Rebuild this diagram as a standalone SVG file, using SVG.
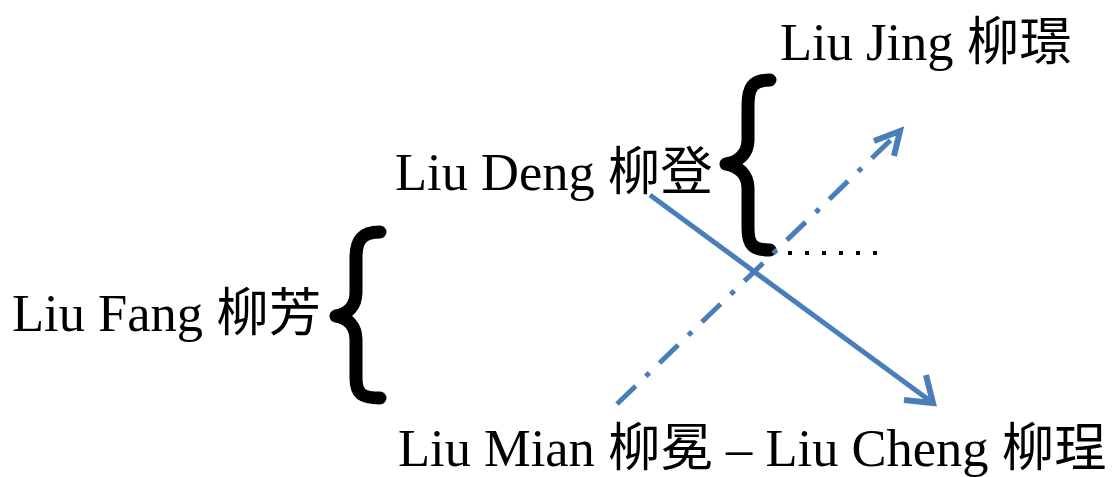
<svg xmlns="http://www.w3.org/2000/svg" width="1115" height="477" viewBox="0 0 1115 477">
<style>
.t{font-family:"Liberation Serif","Noto Sans CJK TC",serif;font-size:52.5px;fill:#000}
.brace{fill:none;stroke:#000;stroke-width:13;stroke-linecap:round;stroke-linejoin:round}
.arr{fill:none;stroke:#4a7ebb;stroke-width:5}
.head{fill:none;stroke:#4a7ebb;stroke-width:6;stroke-linejoin:miter}
</style>
<g id="liu-fang"><text class="t" x="12" y="331">Liu Fang 柳芳</text></g>
<g id="liu-deng"><text class="t" x="395" y="190">Liu Deng 柳登</text></g>
<g id="liu-jing"><text class="t" x="780" y="60">Liu Jing 柳璟</text></g>
<g id="liu-mian-cheng"><text class="t" x="398" y="466">Liu Mian 柳冕 – Liu Cheng 柳珵</text></g>
<g id="braces">
<path class="brace" d="M380,232 C362,232 356,240 356,258 L356,292 C356,306 348,314 336,316 C348,318 356,326 356,340 L356,378 C356,394 362,398 380,398"/>
<path class="brace" d="M770,80 C752,80 748,88 748,106 L748,140 C748,154 738,162 726,164 C738,166 748,174 748,188 L748,228 C748,244 752,250 770,250"/>
</g>
<g id="connectors">
<line x1="788" y1="253" x2="882" y2="253" stroke="#000" stroke-width="4" stroke-dasharray="4,13"/>
<line class="arr" x1="650" y1="195" x2="933" y2="403"/>
<path class="head" d="M904,400 L933,403 L926,375"/>
<line class="arr" x1="617" y1="404" x2="900" y2="131" stroke-dasharray="26,14,5,14"/>
<path class="head" d="M874,141 L900,131 L894,156"/>
</g>
</svg>
